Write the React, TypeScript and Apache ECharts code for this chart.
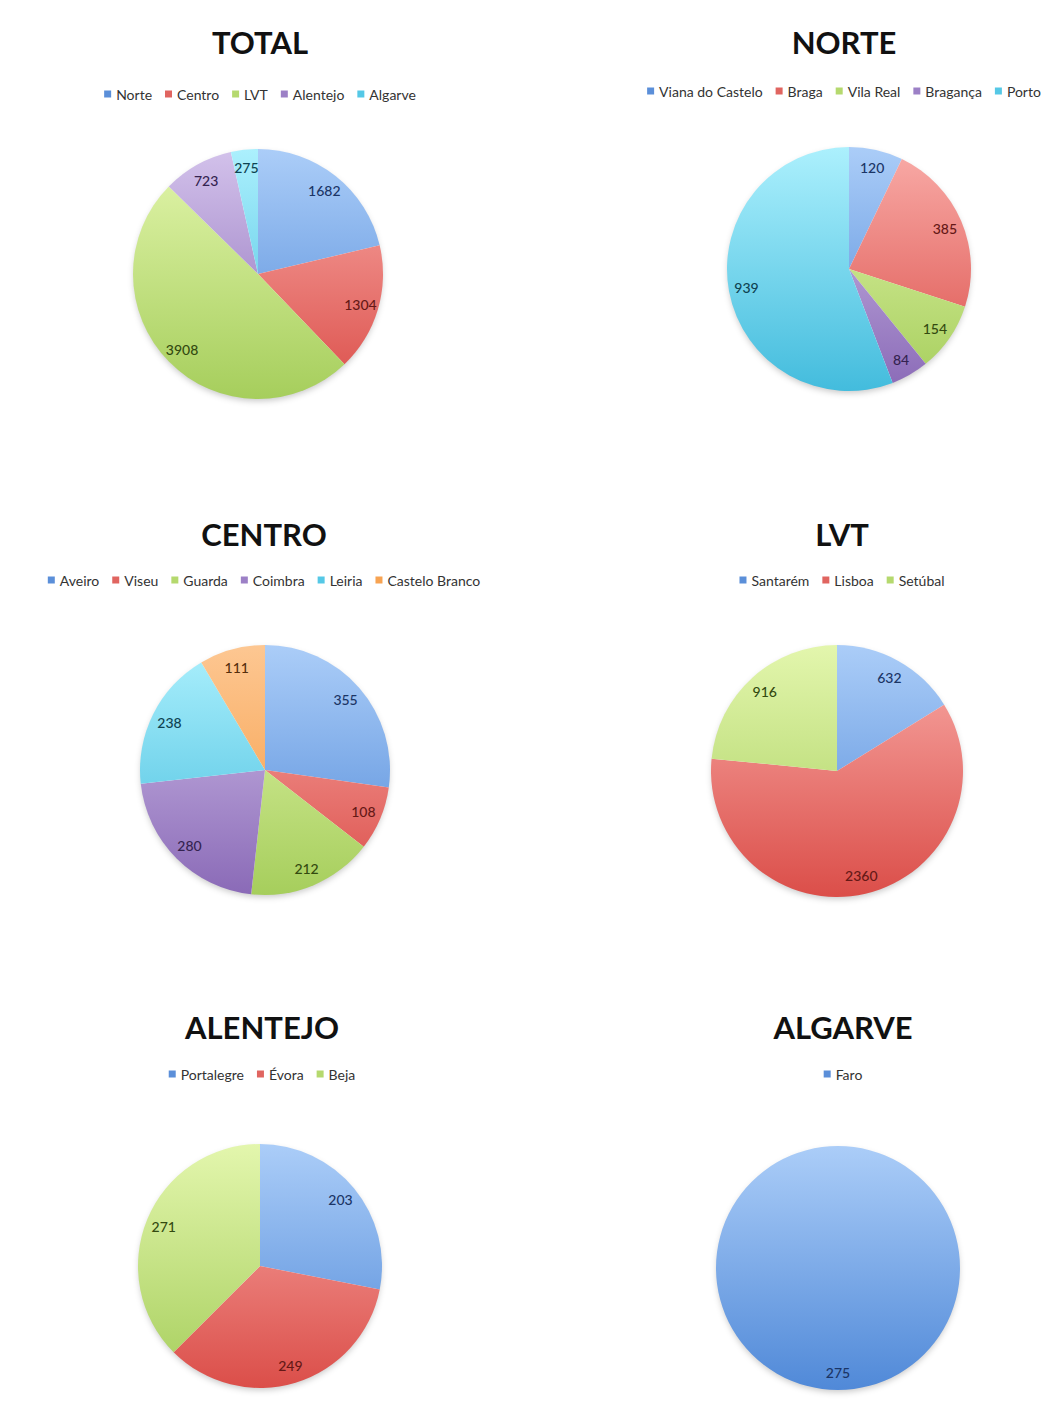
import React, { useEffect, useRef } from 'react';
import * as echarts from 'echarts';

const totalCategories = ['Norte', 'Centro', 'LVT', 'Alentejo', 'Algarve'];
const totalValues = [1682, 1304, 3908, 723, 275];

const norteCategories = ['Viana do Castelo', 'Braga', 'Vila Real', 'Bragança', 'Porto'];
const norteValues = [120, 385, 154, 84, 939];

const centroCategories = ['Aveiro', 'Viseu', 'Guarda', 'Coimbra', 'Leiria', 'Castelo Branco'];
const centroValues = [355, 108, 212, 280, 238, 111];

const lvtCategories = ['Santarém', 'Lisboa', 'Setúbal'];
const lvtValues = [632, 2360, 916];

const alentejoCategories = ['Portalegre', 'Évora', 'Beja'];
const alentejoValues = [203, 249, 271];

const algarveCategories = ['Faro'];
const algarveValues = [275];

const palette = [
  { top: '#abcdf8', bottom: '#5089d8', legend: '#5b8fd9', label: '#1b3566' },
  { top: '#f9aca8', bottom: '#db4e49', legend: '#e06560', label: '#651816' },
  { top: '#e3f6ad', bottom: '#a6ce5c', legend: '#b5d96e', label: '#334a10' },
  { top: '#d3c2eb', bottom: '#8a6ab7', legend: '#9c80c6', label: '#342350' },
  { top: '#acf0fd', bottom: '#43bcdd', legend: '#55c8e6', label: '#0f4352' },
  { top: '#fdc792', bottom: '#f5983e', legend: '#f7a352', label: '#552e0c' },
];

const FONT = 'Lato, "Open Sans", "DejaVu Sans", sans-serif';

type Layout = {
  titleX: number; titleY: number; legendX: number; legendY: number;
  pieX: number; pieY: number; r: number; rowTop: number;
};

const chartDefs: { title: string; categories: string[]; values: number[]; layout: Layout }[] = [
  { title: 'TOTAL', categories: totalCategories, values: totalValues,
    layout: { titleX: 259, titleY: 43, legendX: 260, legendY: 95, pieX: 258, pieY: 274, r: 125, rowTop: 0 } },
  { title: 'NORTE', categories: norteCategories, values: norteValues,
    layout: { titleX: 842, titleY: 43, legendX: 846, legendY: 92, pieX: 849, pieY: 269, r: 122, rowTop: 0 } },
  { title: 'CENTRO', categories: centroCategories, values: centroValues,
    layout: { titleX: 262, titleY: 535, legendX: 265, legendY: 581, pieX: 265, pieY: 770, r: 125, rowTop: 492 } },
  { title: 'LVT', categories: lvtCategories, values: lvtValues,
    layout: { titleX: 840, titleY: 535, legendX: 843, legendY: 581, pieX: 837, pieY: 771, r: 126, rowTop: 492 } },
  { title: 'ALENTEJO', categories: alentejoCategories, values: alentejoValues,
    layout: { titleX: 260, titleY: 1028, legendX: 264, legendY: 1075, pieX: 260, pieY: 1266, r: 122, rowTop: 985 } },
  { title: 'ALGARVE', categories: algarveCategories, values: algarveValues,
    layout: { titleX: 842, titleY: 1028, legendX: 844, legendY: 1075, pieX: 838, pieY: 1268, r: 122, rowTop: 985 } },
];

const W = 520;
const H = 490;

function PieChart({ def }: { def: (typeof chartDefs)[number] }) {
  const ref = useRef<HTMLDivElement>(null);
  const L = def.layout;
  const left = Math.round((L.titleX + L.legendX) / 2) - W / 2;
  const top = L.rowTop;

  useEffect(() => {
    if (!ref.current) return;
    const chart = echarts.init(ref.current, null, { renderer: 'svg' });
    const cx = L.pieX - left;
    const cy = L.pieY - top;
    const grad = (i: number) => ({
      type: 'linear', x: 0, y: cy - L.r, x2: 0, y2: cy + L.r, global: true,
      colorStops: [
        { offset: 0, color: palette[i].top },
        { offset: 1, color: palette[i].bottom },
      ],
    });
    chart.setOption({
      animation: false,
      title: {
        text: def.title,
        left: 'center',
        top: L.titleY - top - 22,
        textStyle: { fontFamily: FONT, fontWeight: 'bold', fontSize: 31, color: '#111' },
      },
      legend: {
        left: 'center',
        top: L.legendY - top - 8,
        padding: 0,
        icon: 'rect',
        itemWidth: 7,
        itemHeight: 7,
        itemGap: 13,
        selectedMode: false,
        textStyle: { fontFamily: FONT, fontSize: 14, color: '#333' },
        data: def.categories.map((n, i) => ({ name: n, itemStyle: { color: palette[i].legend } })),
      },
      graphic: [
        {
          type: 'circle',
          silent: true,
          z: 0,
          shape: { cx, cy, r: L.r - 1 },
          style: { fill: '#ffffff', shadowBlur: 6, shadowColor: 'rgba(0,0,0,0.22)', shadowOffsetY: 3 },
        },
      ],
      series: [
        {
          type: 'pie',
          z: 2,
          center: [cx, cy],
          radius: L.r,
          startAngle: 90,
          clockwise: true,
          silent: true,
          label: { show: false },
          labelLine: { show: false },
          itemStyle: { borderWidth: 0 },
          data: def.categories.map((n, i) => ({
            name: n, value: def.values[i], itemStyle: { color: grad(i) },
          })),
        },
        {
          type: 'pie',
          z: 3,
          center: [cx, cy],
          radius: [L.r * 0.66, L.r],
          startAngle: 90,
          clockwise: true,
          silent: true,
          avoidLabelOverlap: false,
          labelLine: { show: false },
          itemStyle: { color: 'rgba(0,0,0,0)', borderWidth: 0 },
          label: {
            show: true, position: 'inside', formatter: '{c}',
            fontFamily: FONT, fontSize: 14, fontWeight: 500,
          },
          data: def.categories.map((n, i) => ({
            name: n, value: def.values[i],
            itemStyle: { color: 'rgba(0,0,0,0)' },
            label: { color: palette[i].label },
          })),
        },
      ],
    });
    return () => chart.dispose();
  }, []);

  return (
    <div
      ref={ref}
      style={{ position: 'absolute', left, top, width: W, height: H }}
    />
  );
}

export default function App() {
  return (
    <div
      style={{
        position: 'absolute', left: 0, top: 0, width: 1056, height: 1427,
        overflow: 'hidden', background: '#ffffff',
      }}
    >
      {chartDefs.map((d) => (
        <PieChart key={d.title} def={d} />
      ))}
    </div>
  );
}
